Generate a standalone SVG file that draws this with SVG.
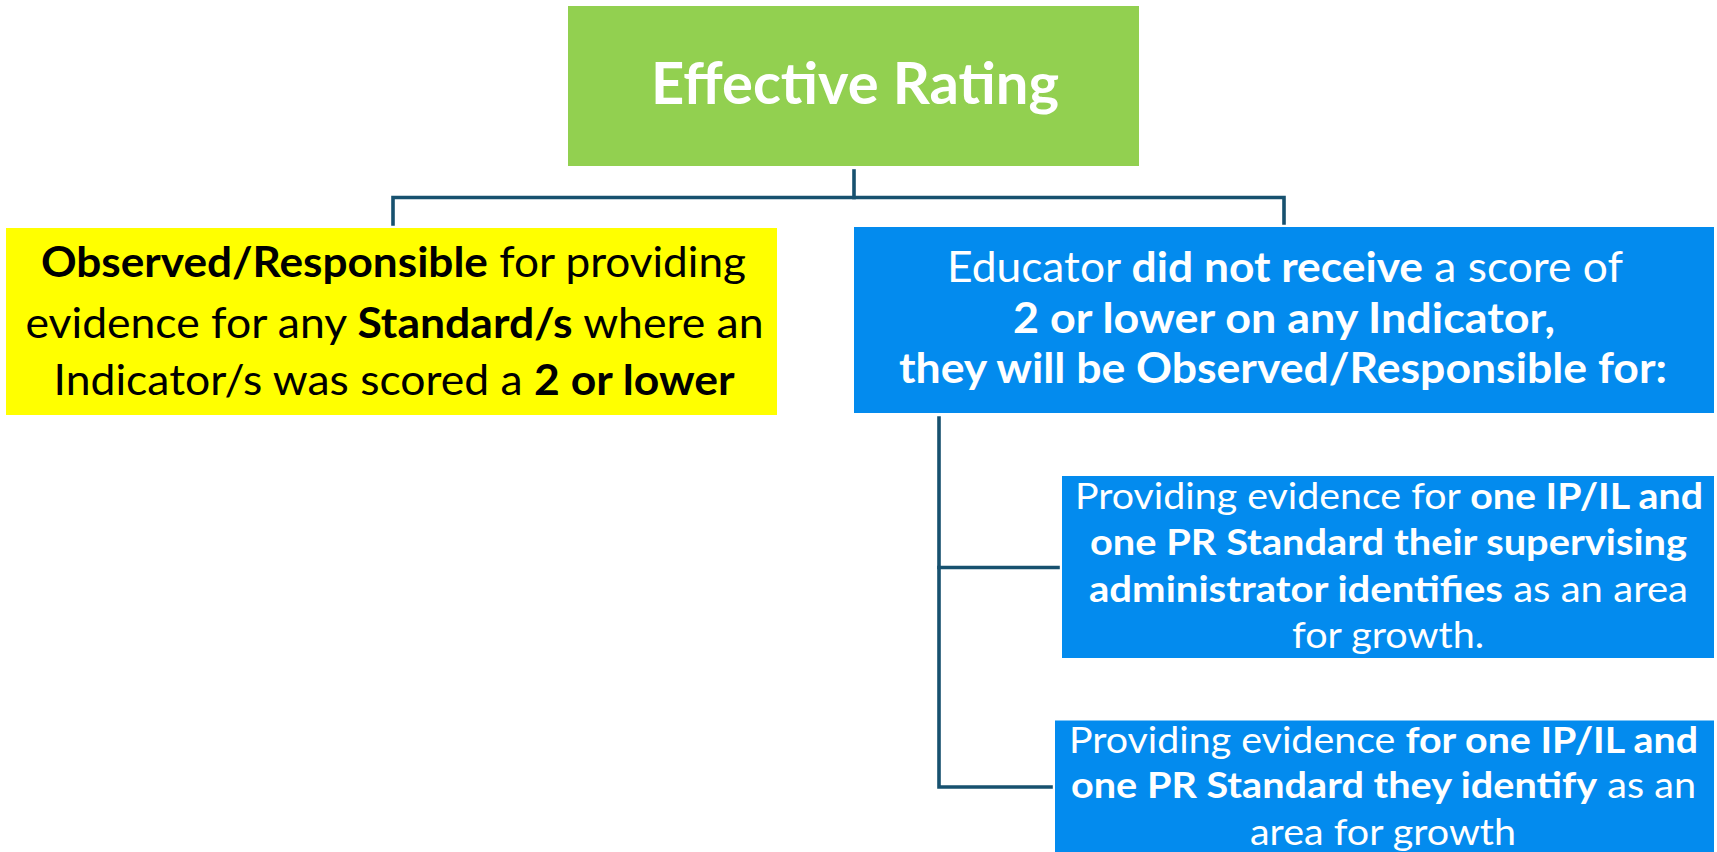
<svg xmlns="http://www.w3.org/2000/svg" width="1717" height="852" viewBox="0 0 1717 852">
<style>
.t{font-family:Lato,"Open Sans","Liberation Sans",sans-serif;}
.w{fill:#FFFFFF;}
.k{fill:#000000;}
.b{font-weight:bold;}
.s1{font-size:57px;}
.s2{font-size:42px;}
.s3{font-size:37px;}
.con{fill:none;stroke:#17516F;stroke-width:3.6;stroke-linecap:square;}
</style>
<rect width="1717" height="852" fill="#FFFFFF"/>
<g id="connectors">
<path class="con" d="M854 171 V197.5"/>
<path class="con" d="M393 224 V197.5 H1284 V223"/>
<path class="con" d="M939 418 V787 H1051"/>
<path class="con" d="M939 567.5 H1058"/>
</g>
<g id="node-effective">
<rect x="568" y="6" width="571" height="160" fill="#92D050"/>
<text class="t w b s1" x="651" y="104" textLength="408" lengthAdjust="spacingAndGlyphs">Effective Rating</text>
</g>
<g id="node-observed">
<rect x="6" y="228" width="771" height="187" fill="#FFFF00"/>
<text class="t k s2" x="41" y="277" textLength="705" lengthAdjust="spacingAndGlyphs"><tspan class="b">Observed/Responsible</tspan> for providing</text>
<text class="t k s2" x="25.5" y="338" textLength="738" lengthAdjust="spacingAndGlyphs">evidence for any <tspan class="b">Standard/s</tspan> where an</text>
<text class="t k s2" x="53.6" y="395" textLength="681" lengthAdjust="spacingAndGlyphs">Indicator/s was scored a <tspan class="b">2 or lower</tspan></text>
</g>
<g id="node-educator">
<rect x="854" y="227" width="860" height="186" fill="#038BEE"/>
<text class="t w s2" x="947" y="281.5" textLength="676" lengthAdjust="spacingAndGlyphs">Educator <tspan class="b">did not receive</tspan> a score of</text>
<text class="t w s2 b" x="1013" y="333" textLength="542" lengthAdjust="spacingAndGlyphs">2 or lower on any Indicator,</text>
<text class="t w s2 b" x="899" y="383" textLength="768" lengthAdjust="spacingAndGlyphs">they will be Observed/Responsible for:</text>
</g>
<g id="node-supervisor">
<rect x="1062" y="476" width="652" height="182" fill="#038BEE"/>
<text class="t w s3" x="1075" y="509" textLength="628" lengthAdjust="spacingAndGlyphs">Providing evidence for <tspan class="b">one IP/IL and</tspan></text>
<text class="t w s3 b" x="1090" y="555" textLength="597" lengthAdjust="spacingAndGlyphs">one PR Standard their supervising</text>
<text class="t w s3" x="1089" y="601.5" textLength="599" lengthAdjust="spacingAndGlyphs"><tspan class="b">administrator identifies</tspan> as an area</text>
<text class="t w s3" x="1292" y="648" textLength="192" lengthAdjust="spacingAndGlyphs">for growth.</text>
</g>
<g id="node-self">
<rect x="1055" y="720.5" width="659" height="140" fill="#038BEE"/>
<text class="t w s3" x="1069" y="752.5" textLength="629" lengthAdjust="spacingAndGlyphs">Providing evidence <tspan class="b">for one IP/IL and</tspan></text>
<text class="t w s3" x="1071" y="798.3" textLength="625" lengthAdjust="spacingAndGlyphs"><tspan class="b">one PR Standard they identify</tspan> as an</text>
<text class="t w s3" x="1250" y="845" textLength="266" lengthAdjust="spacingAndGlyphs">area for growth</text>
</g>
</svg>
